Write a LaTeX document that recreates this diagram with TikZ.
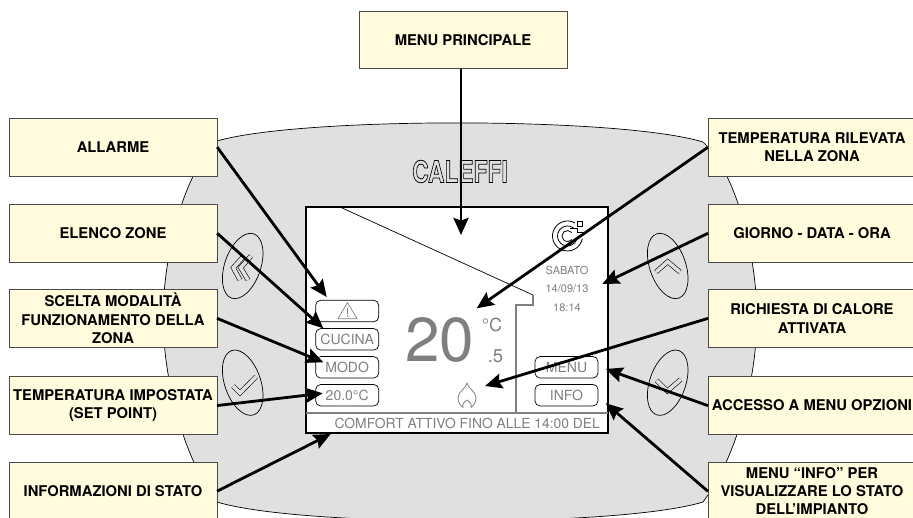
\documentclass[tikz,border=0pt]{standalone}
\usepackage{fontspec}
\usepackage{graphicx}
\usetikzlibrary{arrows.meta}
\setmainfont{TeX Gyre Heros}
\definecolor{boxfill}{HTML}{FFFBDC}
\definecolor{boxline}{HTML}{4A4A4A}
\definecolor{bodyfill}{HTML}{E0E0E0}
\definecolor{dispgray}{HTML}{7F7F7F}
\tikzset{
  callout/.style={draw=boxline,line width=0.9pt,fill=boxfill,minimum width=208pt,minimum height=57.5pt,inner sep=0pt,align=center,font=\bfseries\fontsize{14.8}{18.3}\selectfont,text=black},
  pointer/.style={line width=2.8pt,draw=black,-{Stealth[length=17pt,width=15pt,inset=2.5pt]},shorten <=-0.5pt},
  pill/.style={draw=black,line width=0.7pt,fill=white,rounded corners=5pt,minimum width=63pt,minimum height=21.5pt,inner sep=0pt,font=\fontsize{14}{16}\selectfont,text=dispgray},
  disptext/.style={inner sep=0pt,text=dispgray},
  sidekey/.style={draw=black,line width=0.7pt},
  keyglyph/.style={draw=black,line width=0.6pt,double=bodyfill,double distance=3.6pt,line join=miter,line cap=butt},
}
\begin{document}
\begin{tikzpicture}[x=1pt,y=-1pt]
\useasboundingbox (0,0) rectangle (913,517);
\clip (0,0) rectangle (913,517);
% body of the unit
\draw[fill=bodyfill,draw=black,line width=0.7pt]
  (217,141) .. controls (300,116.7) and (620,116.7) .. (703,142) -- (708,147)
  .. controls (745,190) and (757,275) .. (757,318)
  .. controls (757,360) and (745,440) .. (708,495) -- (703,502)
  .. controls (620,527.3) and (300,527.3) .. (217,502) -- (212,495)
  .. controls (175,440) and (163,360) .. (163,318)
  .. controls (163,275) and (175,190) .. (212,147) -- cycle;
% logo
\node[inner sep=0pt] (brand) at (460,171.5) {\scalebox{0.76}[1]{\special{pdf:code 1 Tr 0.8 w}\bfseries\fontsize{30}{30}\selectfont CALEFFI\special{pdf:code 0 Tr}}};
% side keys
\draw[sidekey,rotate around={-19:(242.7,266)}] (242.7,266) ellipse [x radius=18,y radius=34];
\draw[sidekey,rotate around={19:(242.7,382.7)}] (242.7,382.7) ellipse [x radius=18,y radius=34];
\draw[sidekey,rotate around={19:(667.7,266)}] (667.7,266) ellipse [x radius=18,y radius=34];
\draw[sidekey,rotate around={-19:(667.7,382.7)}] (667.7,382.7) ellipse [x radius=18,y radius=34];
\draw[keyglyph] (243.3,256.7) -- (233.3,267.7) -- (240,280);
\draw[keyglyph] (251,256) -- (240.7,267.7) -- (248,280);
\draw[keyglyph] (656,272) -- (667.7,261.7) -- (680,272);
\draw[keyglyph] (656.7,380.5) -- (667.3,391) -- (680.7,379.5);
\draw[keyglyph] (233,386) -- (240,393) -- (256,376.7);
% display
\draw[fill=white,draw=black,line width=1.4pt] (306,207) rectangle (608,433);
\draw[line width=0.7pt,black] (340,207) -- (533,295);
\draw[line width=1.1pt,dispgray] (533,295.3) -- (533,305) -- (516,305) -- (516,412);
\draw[line width=2pt,dispgray] (306,413) -- (608,413);
% manufacturer mark
\draw[line width=0.8pt,black] (575,223) arc (-60:-350:15);
\draw[line width=0.8pt,black] (573.9,228.3) arc (-50:-340:10);
\draw[line width=0.8pt,black] (571.7,232.5) arc (-40:-320:5.5);
\draw[line width=0.8pt,black] (577.5,221.5) rectangle (582.5,226.5);
\draw[line width=0.8pt,black] (570,228) -- (577,228) -- (577,232) -- (582,232) -- (582,236);
% date
\node[disptext,font=\fontsize{11}{11}\selectfont] (giorno) at (567,270) {SABATO};
\node[disptext,font=\fontsize{11}{11}\selectfont] (datum) at (567,289) {14/09/13};
\node[disptext,font=\fontsize{11}{11}\selectfont] (ora) at (567,308) {18:14};
% temperature
\node[disptext,font=\fontsize{62}{62}\selectfont] (temp) at (439.5,339.5) {20};
\node[disptext,font=\fontsize{18}{18}\selectfont] (grado) at (492,325) {°C};
\node[disptext,font=\fontsize{18.5}{18.5}\selectfont] (decimo) at (495.5,356) {.5};
% flame
\draw[line width=0.8pt,dispgray,line join=round]
  (467,383) .. controls (466,389) and (458,391) .. (458,398)
  .. controls (458,403) and (461,406) .. (463,407.5)
  .. controls (462,404) and (464,402) .. (467,400)
  .. controls (470,402) and (472,404) .. (471,407.5)
  .. controls (473,406) and (476,403) .. (476,398)
  .. controls (476,391) and (468,389) .. (467,383) -- cycle;
% buttons
\node[pill] (alarmbtn) at (347.2,311) {};
\draw[line width=0.7pt,dispgray,line join=round] (347.5,302.5) -- (357,318.7) -- (338,318.7) -- cycle;
\draw[line width=0.8pt,dispgray] (347.5,307.5) -- (347.5,313.5) (347.5,315.2) -- (347.5,316.6);
\node[pill] (zonebtn) at (347.2,339.3) {CUCINA};
\node[pill] (modebtn) at (347.2,367.3) {MODO};
\node[pill] (setbtn) at (347.2,395.2) {20.0°C};
\node[pill] (menubtn) at (566.5,367.3) {MENU};
\node[pill] (infobtn) at (566.5,395.2) {INFO};
\node[inner sep=0pt,text=dispgray,font=\fontsize{13.85}{16}\selectfont,anchor=east] (status) at (600,423.5) {COMFORT ATTIVO FINO ALLE 14:00 DEL};
% callouts
\node[callout] (main) at (463,40) {MENU PRINCIPALE};
\node[callout] (allarme) at (113,147.5) {ALLARME};
\node[callout] (elenco) at (113,233.5) {ELENCO ZONE};
\node[callout] (scelta) at (113,318.5) {SCELTA MODALITÀ\\FUNZIONAMENTO DELLA\\ZONA};
\node[callout] (impostata) at (113,405.5) {TEMPERATURA IMPOSTATA\\(SET POINT)};
\node[callout] (stato) at (113,491) {INFORMAZIONI DI STATO};
\node[callout] (rilevata) at (812,147.5) {TEMPERATURA RILEVATA\\NELLA ZONA};
\node[callout] (data) at (812,233.5) {GIORNO - DATA - ORA};
\node[callout] (calore) at (812,318.5) {RICHIESTA DI CALORE\\ATTIVATA};
\node[callout] (opzioni) at (812,405.5) {ACCESSO A MENU OPZIONI};
\node[callout] (info) at (812,491) {MENU “INFO” PER\\VISUALIZZARE LO STATO\\DELL’IMPIANTO};
% targets
\coordinate (tMain) at (461,235);
\coordinate (tAlarm) at (326.7,297);
\coordinate (tZone) at (323.3,328.3);
\coordinate (tMode) at (323.3,362.3);
\coordinate (tSet) at (322.7,393.3);
\coordinate (tStatus) at (330.7,434);
\coordinate (tTemp) at (476.7,308.3);
\coordinate (tDate) at (602.3,284);
\coordinate (tFlame) at (485,386);
\coordinate (tMenu) at (605.7,369);
\coordinate (tInfo) at (605.7,403.3);
% connectors
\draw[pointer] ([xshift=-2pt]main.south) -- (tMain);
\draw[pointer] (allarme.east) -- (tAlarm);
\draw[pointer] (elenco.east) -- (tZone);
\draw[pointer] (scelta.east) -- (tMode);
\draw[pointer] (impostata.east) -- (tSet);
\draw[pointer] (stato.east) -- (tStatus);
\draw[pointer] (rilevata.west) -- (tTemp);
\draw[pointer] (data.west) -- (tDate);
\draw[pointer] (calore.west) -- (tFlame);
\draw[pointer] (opzioni.west) -- (tMenu);
\draw[pointer] (info.west) -- (tInfo);
\end{tikzpicture}
\end{document}
